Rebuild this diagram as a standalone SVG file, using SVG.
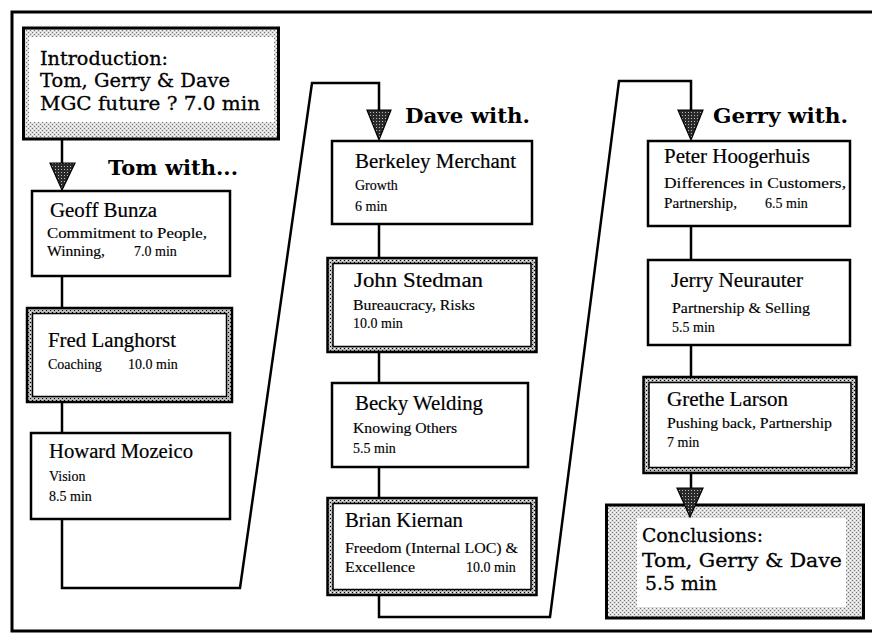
<svg xmlns="http://www.w3.org/2000/svg" width="872" height="635" viewBox="0 0 872 635">
  <defs>
    <!-- light halftone used on the opening and closing boxes -->
    <pattern id="dots" width="4" height="4" patternUnits="userSpaceOnUse">
      <rect width="4" height="4" fill="#dcdcdc"/>
      <rect x="0" y="0" width="1" height="1" fill="#777"/>
      <rect x="2" y="2" width="1" height="1" fill="#777"/>
      <rect x="2" y="0" width="1" height="1" fill="#fff"/>
      <rect x="0" y="2" width="1" height="1" fill="#fff"/>
    </pattern>
    <!-- darker halftone used inside the double-ruled frames -->
    <pattern id="rule" width="4" height="4" patternUnits="userSpaceOnUse">
      <rect width="4" height="4" fill="#bbb"/>
      <rect x="0" y="0" width="1" height="1" fill="#000"/>
      <rect x="2" y="2" width="1" height="1" fill="#000"/>
      <rect x="2" y="0" width="1" height="1" fill="#fff"/>
    </pattern>
    <pattern id="speck" width="3" height="3" patternUnits="userSpaceOnUse">
      <rect width="3" height="3" fill="#2a2a2a"/>
      <rect x="1" y="1" width="1" height="1" fill="#bbb"/>
    </pattern>
    <style>
      .frame { fill: none; stroke: #000; stroke-width: 3; }
      .box { fill: #fff; stroke: #000; stroke-width: 2.5; }
      .band { fill: url(#dots); stroke: #000; stroke-width: 3; }
      .rule { fill: url(#rule); stroke: #000; stroke-width: 2.5; }
      .inner { fill: #fff; stroke: #000; stroke-width: 1.5; }
      .hole { fill: #fff; stroke: none; }
      .wire { fill: none; stroke: #000; stroke-width: 2.5; stroke-linejoin: miter; }
      .head { fill: url(#speck); stroke: #000; stroke-width: 1.2; }
      text { fill: #000; }
      .name { font-family: "Liberation Serif", "Times New Roman", serif; font-size: 20px; stroke: #000; stroke-width: 0.2; }
      .sub { font-family: "Liberation Serif", "Times New Roman", serif; font-size: 14px; stroke: #000; stroke-width: 0.15; }
      .title { font-family: "DejaVu Serif", "Liberation Serif", serif; font-size: 19px; stroke: #000; stroke-width: 0.3; }
      .lead { font-family: "DejaVu Serif", "Liberation Serif", serif; font-size: 20px; font-weight: bold; }
    </style>
  </defs>

  <rect width="872" height="635" fill="#fff"/>
  <!-- page frame (right side runs off the sheet) -->
  <rect class="frame" x="12" y="12" width="880" height="619"/>

  <!-- connectors -->
  <g id="connectors">
    <path class="wire" d="M62,140 V164"/>
    <path class="wire" d="M62,276 V308"/>
    <path class="wire" d="M62,402 V433"/>
    <path class="wire" d="M62,519 V588 H240 L312,83 H379 V111"/>
    <path class="wire" d="M379,224 V258"/>
    <path class="wire" d="M379,352 V383"/>
    <path class="wire" d="M379,467 V498"/>
    <path class="wire" d="M379,595 V617 H550 L619,81 H691 V111"/>
    <path class="wire" d="M691,226 V260"/>
    <path class="wire" d="M691,345 V377"/>
    <path class="wire" d="M691,473 V489"/>
    <polygon class="head" points="50,163 75,163 62,190"/>
    <polygon class="head" points="367,110 391,110 379,140"/>
    <polygon class="head" points="678,110 703,110 691,140"/>
  </g>

  <!-- section labels -->
  <text class="lead" x="108" y="175" textLength="130" lengthAdjust="spacingAndGlyphs">Tom  with...</text>
  <text class="lead" x="405" y="123" textLength="125" lengthAdjust="spacingAndGlyphs">Dave  with.</text>
  <text class="lead" x="713" y="123" textLength="135" lengthAdjust="spacingAndGlyphs">Gerry  with.</text>

  <!-- opening session -->
  <g id="intro">
    <rect class="band" x="23.5" y="28" width="255" height="111"/>
    <rect class="hole" x="29" y="37" width="245" height="85"/>
    <text class="title" x="40" y="65" textLength="128" lengthAdjust="spacingAndGlyphs">Introduction:</text>
    <text class="title" x="40" y="87" textLength="190" lengthAdjust="spacingAndGlyphs">Tom, Gerry &amp; Dave</text>
    <text class="title" x="40" y="110" textLength="220" lengthAdjust="spacingAndGlyphs">MGC future ?  7.0 min</text>
  </g>

  <!-- Tom's column -->
  <g id="geoff">
    <rect class="box" x="32" y="191" width="198" height="85"/>
    <text class="name" x="50" y="217" textLength="107" lengthAdjust="spacingAndGlyphs">Geoff Bunza</text>
    <text class="sub" x="47" y="238" textLength="160" lengthAdjust="spacingAndGlyphs">Commitment to  People,</text>
    <text class="sub" x="47" y="256" textLength="58" lengthAdjust="spacingAndGlyphs">Winning,</text>
    <text class="sub" x="134" y="256">7.0 min</text>
  </g>
  <g id="fred">
    <rect class="rule" x="27" y="308" width="205" height="94"/>
    <rect class="inner" x="32.5" y="313.5" width="194" height="83"/>
    <text class="name" x="48" y="347" textLength="128" lengthAdjust="spacingAndGlyphs">Fred Langhorst</text>
    <text class="sub" x="48" y="369">Coaching</text>
    <text class="sub" x="128" y="369">10.0 min</text>
  </g>
  <g id="howard">
    <rect class="box" x="31" y="433" width="199" height="86"/>
    <text class="name" x="49" y="458" textLength="144" lengthAdjust="spacingAndGlyphs">Howard Mozeico</text>
    <text class="sub" x="49" y="481">Vision</text>
    <text class="sub" x="49" y="501">8.5 min</text>
  </g>

  <!-- Dave's column -->
  <g id="berkeley">
    <rect class="box" x="332" y="141" width="200" height="83"/>
    <text class="name" x="355" y="168" textLength="161" lengthAdjust="spacingAndGlyphs">Berkeley Merchant</text>
    <text class="sub" x="355" y="190">Growth</text>
    <text class="sub" x="355" y="211">6 min</text>
  </g>
  <g id="john">
    <rect class="rule" x="327.5" y="258" width="209" height="94"/>
    <rect class="inner" x="333" y="263.5" width="198" height="83"/>
    <text class="name" x="354" y="287" textLength="129" lengthAdjust="spacingAndGlyphs">John Stedman</text>
    <text class="sub" x="353" y="310" textLength="122" lengthAdjust="spacingAndGlyphs">Bureaucracy, Risks</text>
    <text class="sub" x="353" y="328">10.0 min</text>
  </g>
  <g id="becky">
    <rect class="box" x="332" y="383" width="196" height="84"/>
    <text class="name" x="355" y="410" textLength="128" lengthAdjust="spacingAndGlyphs">Becky Welding</text>
    <text class="sub" x="353" y="433" textLength="104" lengthAdjust="spacingAndGlyphs">Knowing Others</text>
    <text class="sub" x="353" y="453">5.5 min</text>
  </g>
  <g id="brian">
    <rect class="rule" x="327.5" y="498" width="209" height="97"/>
    <rect class="inner" x="333" y="503.5" width="198" height="86"/>
    <text class="name" x="345" y="527" textLength="118" lengthAdjust="spacingAndGlyphs">Brian Kiernan</text>
    <text class="sub" x="345" y="553" textLength="173" lengthAdjust="spacingAndGlyphs">Freedom (Internal LOC) &amp;</text>
    <text class="sub" x="345" y="572" textLength="70" lengthAdjust="spacingAndGlyphs">Excellence</text>
    <text class="sub" x="466" y="572">10.0 min</text>
  </g>

  <!-- Gerry's column -->
  <g id="peter">
    <rect class="box" x="648" y="141" width="202" height="85"/>
    <text class="name" x="664" y="163" textLength="146" lengthAdjust="spacingAndGlyphs">Peter Hoogerhuis</text>
    <text class="sub" x="664" y="188" textLength="182" lengthAdjust="spacingAndGlyphs">Differences in Customers,</text>
    <text class="sub" x="664" y="208" textLength="73" lengthAdjust="spacingAndGlyphs">Partnership,</text>
    <text class="sub" x="765" y="208">6.5 min</text>
  </g>
  <g id="jerry">
    <rect class="box" x="648" y="260" width="202" height="85"/>
    <text class="name" x="671" y="287" textLength="132" lengthAdjust="spacingAndGlyphs">Jerry Neurauter</text>
    <text class="sub" x="672" y="313" textLength="138" lengthAdjust="spacingAndGlyphs">Partnership &amp; Selling</text>
    <text class="sub" x="672" y="332">5.5 min</text>
  </g>
  <g id="grethe">
    <rect class="rule" x="643.5" y="377" width="213" height="96"/>
    <rect class="inner" x="649" y="382.5" width="202" height="85"/>
    <text class="name" x="667" y="406" textLength="121" lengthAdjust="spacingAndGlyphs">Grethe Larson</text>
    <text class="sub" x="667" y="428" textLength="165" lengthAdjust="spacingAndGlyphs">Pushing back, Partnership</text>
    <text class="sub" x="667" y="447">7 min</text>
  </g>

  <!-- closing session -->
  <g id="conclusions">
    <rect class="band" x="606.5" y="505" width="257" height="113"/>
    <rect class="hole" x="637" y="518" width="209" height="89"/>
    <text class="title" x="642" y="542" textLength="121" lengthAdjust="spacingAndGlyphs">Conclusions:</text>
    <text class="title" x="642" y="567" textLength="200" lengthAdjust="spacingAndGlyphs">Tom, Gerry &amp; Dave</text>
    <text class="title" x="645" y="590" textLength="72" lengthAdjust="spacingAndGlyphs">5.5 min</text>
  </g>
  <!-- arrow into the closing box, drawn over its border -->
  <polygon class="head" points="677,488 703,488 690,517"/>
</svg>
